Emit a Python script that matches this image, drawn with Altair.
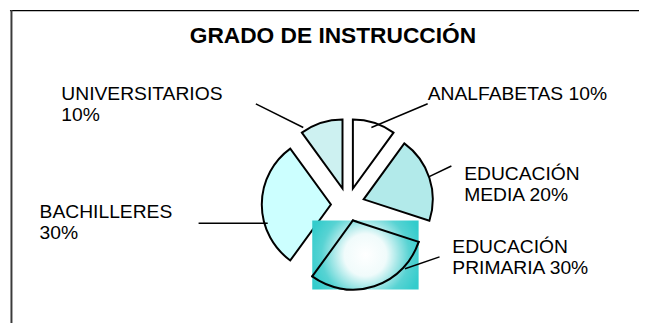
import altair as alt
import pandas as pd

# ---- data ----
categories = ["ANALFABETAS", "EDUCACIÓN MEDIA", "EDUCACIÓN PRIMARIA", "BACHILLERES", "UNIVERSITARIOS"]
values = [10, 20, 30, 30, 10]
title_text = "GRADO DE INSTRUCCIÓN"

# ---- styles ----
fills = ["#FFFFFF", "#B2EAEA", "transparent", "#CCFFFF", "#CDF1F1"]
gradient_slice = "EDUCACIÓN PRIMARIA"
FONT = "Liberation Sans"

# ---- layout (svg pixels) ----
W, H = 639, 317
CX, CY = 344, 197
R = 70
EXPLODE = 17
label_breaks = ["none", "first", "first", "name", "name"]
label_x = [425, 462, 450, 32, 54]
label_y = [91.3, 172, 246, 211, 91.3]
leader_x1 = [368, 426, 402, 263, 299]
leader_y1 = [119, 169, 262, 216, 119]
leader_x2 = [425, 449, 437, 193, 251]
leader_y2 = [95, 158, 250, 216, 95]


def make_label(name, v, mode):
    pct = f"{v}%"
    if mode == "name":
        return f"{name}\n{pct}"
    if mode == "first":
        a, b = name.split(" ", 1)
        return f"{a}\n{b} {pct}"
    return f"{name} {pct}"


df = pd.DataFrame({"cat": categories, "value": values, "idx": list(range(len(categories)))})
lab = pd.DataFrame({
    "cat": categories,
    "label": [make_label(c, v, m) for c, v, m in zip(categories, values, label_breaks)],
    "lx": label_x, "ly": label_y,
    "x1": leader_x1, "y1": leader_y1, "x2": leader_x2, "y2": leader_y2,
})
one = pd.DataFrame({"t": [title_text]})

base = (
    alt.Chart(df)
    .transform_window(cum="sum(value)", sort=[alt.SortField("idx")], frame=[None, 0])
    .transform_joinaggregate(total="sum(value)")
    .transform_calculate(t0="2*PI*(datum.cum - datum.value)/datum.total")
    .transform_calculate(t1="2*PI*datum.cum/datum.total")
    .transform_calculate(mid="(datum.t0 + datum.t1)/2")
    .transform_calculate(ox=f"{CX} + {EXPLODE}*sin(datum.mid)")
    .transform_calculate(oy=f"{CY} - {EXPLODE}*cos(datum.mid)")
)

enc = dict(
    theta=alt.Theta("t0:Q", scale=None),
    theta2=alt.Theta2("t1:Q"),
    x=alt.X("ox:Q", scale=None),
    y=alt.Y("oy:Q", scale=None),
)

arcs = base.mark_arc(radius=R, stroke="black", strokeWidth=2).encode(
    color=alt.Color("cat:N", scale=alt.Scale(domain=categories, range=fills), legend=None),
    **enc,
)

grad = alt.RadialGradient(
    gradient="radial",
    stops=[
        alt.GradientStop(offset=0, color="#FFFFFF"),
        alt.GradientStop(offset=0.36, color="#F0FBFB"),
        alt.GradientStop(offset=0.75, color="#58D3D3"),
        alt.GradientStop(offset=1, color="#33CCCC"),
    ],
    x1=0.5, y1=0.5, r1=0, x2=0.5, y2=0.5, r2=0.55,
)

bbox = (
    base.transform_filter(alt.datum.cat == gradient_slice)
    .transform_calculate(
        bx0=f"min(datum.ox, datum.ox+{R}*sin(datum.t0), datum.ox+{R}*sin(datum.t1), (datum.t0<=1.5*PI && datum.t1>=1.5*PI) ? datum.ox-{R} : datum.ox)"
    )
    .transform_calculate(
        bx1=f"max(datum.ox, datum.ox+{R}*sin(datum.t0), datum.ox+{R}*sin(datum.t1), (datum.t0<=0.5*PI && datum.t1>=0.5*PI) ? datum.ox+{R} : datum.ox)"
    )
    .transform_calculate(
        by0=f"min(datum.oy, datum.oy-{R}*cos(datum.t0), datum.oy-{R}*cos(datum.t1), (datum.t0<=0 || datum.t1>=2*PI) ? datum.oy-{R} : datum.oy)"
    )
    .transform_calculate(
        by1=f"max(datum.oy, datum.oy-{R}*cos(datum.t0), datum.oy-{R}*cos(datum.t1), (datum.t0<=PI && datum.t1>=PI) ? datum.oy+{R} : datum.oy)"
    )
    .mark_rect(fill=grad)
    .encode(
        x=alt.X("bx0:Q", scale=None), x2="bx1:Q",
        y=alt.Y("by0:Q", scale=None), y2="by1:Q",
    )
)

outline = (
    base.transform_filter(alt.datum.cat == gradient_slice)
    .mark_arc(radius=R, stroke="black", strokeWidth=2, fill="transparent")
    .encode(**enc)
)

leaders = alt.Chart(lab).mark_rule(color="black", strokeWidth=1.5).encode(
    x=alt.X("x1:Q", scale=None), y=alt.Y("y1:Q", scale=None),
    x2="x2:Q", y2="y2:Q",
)

labels = alt.Chart(lab).mark_text(
    align="left", baseline="alphabetic", lineBreak="\n", lineHeight=21,
    font=FONT, fontSize=19.5, color="black",
).encode(
    x=alt.X("lx:Q", scale=None), y=alt.Y("ly:Q", scale=None), text="label:N"
)

title = alt.Chart(one).mark_text(
    align="center", baseline="alphabetic", font=FONT, fontSize=23,
    fontWeight="bold", color="black",
).encode(x=alt.value(329), y=alt.value(33.7), text="t:N")

border_top = alt.Chart(one).mark_rule(color="black", strokeWidth=1.2).encode(
    x=alt.value(2), x2=alt.value(W), y=alt.value(0.6), y2=alt.value(0.6)
)
border_left = alt.Chart(one).mark_rule(color="#3a3a3a", strokeWidth=2).encode(
    x=alt.value(3.5), x2=alt.value(3.5), y=alt.value(0), y2=alt.value(H)
)

chart = (
    alt.layer(arcs, bbox, outline, leaders, labels, title, border_top, border_left)
    .properties(width=W, height=H, autosize=alt.AutoSizeParams(type="none"), padding=0)
    .configure_view(stroke=None)
)

chart.save("out.html", embed_options={"renderer": "svg", "actions": False})
